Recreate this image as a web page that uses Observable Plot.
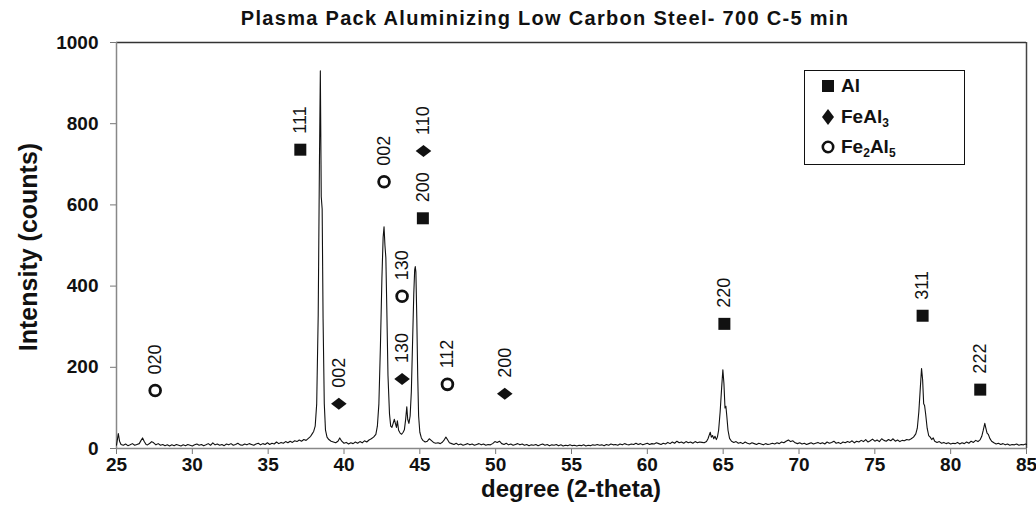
<!DOCTYPE html>
<html>
<head>
<meta charset="utf-8">
<script src="https://cdn.jsdelivr.net/npm/d3@7"></script>
<script src="https://cdn.jsdelivr.net/npm/@observablehq/plot@0.6"></script>
<style>
  html, body { margin: 0; padding: 0; background: #fff; }
  body { font-family: "Liberation Sans", Arial, Helvetica, sans-serif; color: #111; }
  #wrap { position: relative; width: 1036px; height: 520px; overflow: hidden; }
  #title { position: absolute; left: 545px; top: 18px; transform: translate(-50%, -50%); white-space: nowrap;
           font-weight: bold; font-size: 20px; letter-spacing: 1.3px; line-height: 1; }
  #ylabel { position: absolute; left: 28px; top: 247px; transform: translate(-50%, -50%) rotate(-90deg);
            white-space: nowrap; font-weight: bold; font-size: 25px; line-height: 1; }
  #xlabel { position: absolute; left: 571px; top: 489px; transform: translate(-50%, -50%); white-space: nowrap;
            font-weight: bold; font-size: 24px; line-height: 1; }
  #legend { position: absolute; left: 804px; top: 70px; width: 161px; height: 95px; box-sizing: border-box;
            border: 1.5px solid #111; background: #fff; padding: 0 0 0 16px; }
  .item { display: flex; align-items: center; height: 30.5px; font-weight: bold; font-size: 19px; }
  .item svg { margin-right: 6px; }
  sub { font-size: 12px; vertical-align: -4px; line-height: 0; }
</style>
</head>
<body>
<div id="wrap">
  <div id="title"></div>
  <div id="chart"></div>
  <div id="ylabel"></div>
  <div id="xlabel"></div>
  <div id="legend"></div>
</div>
<script>
// ---- Data ----
const chartTitle = "Plasma Pack Aluminizing Low Carbon Steel- 700 C-5 min";
const xTitle = "degree (2-theta)";
const yTitle = "Intensity (counts)";
const xTicks = [25, 30, 35, 40, 45, 50, 55, 60, 65, 70, 75, 80, 85];
const yTicks = [0, 200, 400, 600, 800, 1000];

// XRD pattern: [2-theta (deg), intensity (counts)]
const pattern = [
  [25.00,8],[25.05,20],[25.12,37],[25.2,18],[25.3,10],[25.45,8],[25.6,11],[25.75,7],[25.9,9],[26.05,12],
  [26.2,8],[26.35,10],[26.5,12],[26.62,20],[26.72,26],[26.82,18],[26.95,10],[27.05,9],[27.2,13],[27.32,17],
  [27.45,14],[27.6,9],[27.75,12],[27.9,8],[28.05,10],[28.2,7],[28.35,9],[28.5,6],[28.65,9],[28.8,7],
  [28.95,10],[29.1,8],[29.25,6],[29.4,9],[29.55,7],[29.7,10],[29.85,8],[30.0,6],[30.15,9],[30.3,11],
  [30.45,8],[30.6,10],[30.75,7],[30.9,9],[31.05,12],[31.2,8],[31.35,14],[31.5,9],[31.65,11],[31.8,8],
  [31.95,10],[32.1,7],[32.25,11],[32.4,9],[32.55,12],[32.7,8],[32.85,10],[33.0,13],[33.15,9],[33.3,8],
  [33.45,11],[33.6,9],[33.75,12],[33.9,10],[34.05,8],[34.2,11],[34.35,13],[34.5,9],[34.65,12],[34.8,10],
  [34.95,14],[35.1,10],[35.25,13],[35.4,11],[35.55,16],[35.7,12],[35.85,15],[36.0,13],[36.15,17],[36.3,14],
  [36.45,18],[36.6,15],[36.75,19],[36.9,17],[37.05,21],[37.2,18],[37.35,22],[37.5,20],[37.65,25],[37.8,30],
  [37.9,36],[38.0,42],[38.1,55],[38.2,110],[38.3,330],[38.38,700],[38.44,930],[38.5,620],[38.56,590],[38.62,320],
  [38.7,110],[38.78,45],[38.88,28],[39.0,22],[39.15,18],[39.3,16],[39.45,14],[39.6,18],[39.72,26],[39.85,18],
  [40.0,13],[40.15,15],[40.3,11],[40.45,14],[40.6,12],[40.75,16],[40.9,13],[41.05,17],[41.2,14],[41.35,19],
  [41.5,16],[41.65,21],[41.8,24],[41.95,28],[42.1,35],[42.2,55],[42.3,110],[42.4,250],[42.5,420],[42.58,520],
  [42.64,546],[42.7,500],[42.76,470],[42.82,350],[42.9,180],[43.0,85],[43.08,55],[43.16,52],[43.24,62],[43.32,72],
  [43.4,60],[43.46,52],[43.52,68],[43.6,45],[43.7,38],[43.8,35],[43.9,40],[43.98,46],[44.06,70],[44.14,103],
  [44.2,72],[44.28,62],[44.36,80],[44.44,140],[44.52,260],[44.6,380],[44.66,440],[44.7,448],[44.74,435],[44.8,320],
  [44.86,180],[44.92,80],[45.0,40],[45.1,26],[45.2,20],[45.35,16],[45.5,18],[45.62,24],[45.75,20],[45.9,15],
  [46.05,13],[46.2,14],[46.35,12],[46.5,16],[46.62,22],[46.72,28],[46.82,22],[46.95,14],[47.1,12],[47.25,10],
  [47.4,13],[47.55,9],[47.7,11],[47.85,8],[48.0,10],[48.15,12],[48.3,9],[48.45,11],[48.6,8],[48.75,10],
  [48.9,12],[49.05,9],[49.2,11],[49.35,8],[49.5,10],[49.65,9],[49.8,12],[49.95,17],[50.1,15],[50.25,18],
  [50.4,12],[50.55,10],[50.7,13],[50.85,9],[51.0,11],[51.15,8],[51.3,10],[51.45,12],[51.6,9],[51.75,11],
  [51.9,8],[52.05,10],[52.2,7],[52.35,9],[52.5,8],[52.65,10],[52.8,7],[52.95,9],[53.1,11],[53.25,8],
  [53.4,10],[53.55,7],[53.7,9],[53.85,8],[54.0,10],[54.15,7],[54.3,9],[54.45,6],[54.6,8],[54.75,7],
  [54.9,9],[55.05,7],[55.2,8],[55.35,6],[55.5,8],[55.65,7],[55.8,9],[55.95,6],[56.1,8],[56.25,7],
  [56.4,9],[56.55,8],[56.7,10],[56.85,8],[57.0,9],[57.15,7],[57.3,10],[57.45,8],[57.6,11],[57.75,9],
  [57.9,10],[58.05,8],[58.2,11],[58.35,9],[58.5,12],[58.65,10],[58.8,9],[58.95,11],[59.1,10],[59.25,13],
  [59.4,10],[59.55,12],[59.7,9],[59.85,11],[60.0,13],[60.15,10],[60.3,12],[60.45,11],[60.6,14],[60.75,12],
  [60.9,10],[61.05,13],[61.2,11],[61.35,15],[61.5,12],[61.65,16],[61.8,13],[61.95,18],[62.1,14],[62.25,16],
  [62.4,13],[62.55,17],[62.7,14],[62.85,16],[63.0,13],[63.15,17],[63.3,14],[63.45,16],[63.6,15],[63.75,14],
  [63.9,17],[64.0,24],[64.08,33],[64.15,40],[64.22,28],[64.3,32],[64.38,24],[64.46,30],[64.55,22],[64.62,28],
  [64.7,45],[64.8,90],[64.9,150],[64.98,194],[65.05,160],[65.12,100],[65.18,104],[65.24,80],[65.32,45],[65.42,25],
  [65.55,18],[65.7,15],[65.85,17],[66.0,13],[66.15,15],[66.3,12],[66.45,16],[66.6,13],[66.75,11],[66.9,14],
  [67.05,12],[67.2,10],[67.35,13],[67.5,11],[67.65,9],[67.8,12],[67.95,10],[68.1,11],[68.25,13],[68.4,11],
  [68.55,14],[68.7,12],[68.85,16],[69.0,14],[69.15,18],[69.3,21],[69.45,17],[69.6,19],[69.75,14],[69.9,12],
  [70.05,14],[70.2,11],[70.35,13],[70.5,10],[70.65,12],[70.8,14],[70.95,11],[71.1,13],[71.25,15],[71.4,12],
  [71.55,14],[71.7,11],[71.85,16],[72.0,13],[72.15,15],[72.3,18],[72.45,13],[72.6,15],[72.75,12],[72.9,16],
  [73.05,14],[73.2,17],[73.35,15],[73.5,19],[73.65,14],[73.8,18],[73.95,16],[74.1,20],[74.25,17],[74.4,22],
  [74.55,16],[74.7,19],[74.85,23],[75.0,18],[75.15,21],[75.3,17],[75.45,24],[75.6,20],[75.75,18],[75.9,22],
  [76.05,19],[76.2,24],[76.35,18],[76.5,21],[76.65,17],[76.8,20],[76.95,19],[77.1,22],[77.25,21],[77.4,24],
  [77.55,28],[77.7,36],[77.8,50],[77.9,90],[78.0,150],[78.08,197],[78.15,170],[78.22,110],[78.28,106],[78.35,85],
  [78.45,50],[78.55,32],[78.65,28],[78.75,22],[78.85,26],[78.95,18],[79.1,15],[79.25,17],[79.4,13],[79.55,15],
  [79.7,12],[79.85,14],[80.0,11],[80.15,13],[80.3,12],[80.45,15],[80.6,11],[80.75,14],[80.9,12],[81.05,16],
  [81.2,13],[81.35,18],[81.5,15],[81.65,20],[81.8,17],[81.95,22],[82.05,30],[82.15,45],[82.25,62],[82.32,50],
  [82.4,38],[82.48,35],[82.58,25],[82.7,18],[82.85,14],[83.0,11],[83.15,13],[83.3,10],[83.45,12],[83.6,9],
  [83.75,11],[83.9,8],[84.05,10],[84.2,9],[84.35,11],[84.5,8],[84.65,10],[84.8,9],[84.95,11],[85.0,10]
];

// Phase identification annotations
const peakPhase   = ["Fe2Al5","Al","FeAl3","Fe2Al5","FeAl3","Al","Fe2Al5","FeAl3","Fe2Al5","FeAl3","Al","Al","Al"];
const peakTheta   = [27.55, 37.12, 39.66, 42.64, 45.24, 45.2, 43.83, 43.83, 46.82, 50.6, 65.08, 78.15, 81.95];
const markerLevel = [143, 736, 110, 657, 733, 567, 375, 171, 158, 135, 307, 327, 145];
const peakHkl     = ["020","111","002","002","110","200","130","130","112","200","220","311","222"];

// Legend entries
const legendPhases = ["Al", "FeAl3", "Fe2Al5"];
const legendHtml   = ["Al", "FeAl<sub>3</sub>", "Fe<sub>2</sub>Al<sub>5</sub>"];

// ---- Build ----
const curve = pattern.map(([theta, counts]) => ({theta, counts}));
const notes = peakTheta.map((t, i) => ({theta: t, level: markerLevel[i], hkl: peakHkl[i], phase: peakPhase[i]}));

const squareSym = {draw(ctx, size) { const r = Math.sqrt(size / Math.PI); const h = r; ctx.moveTo(-h, -h); ctx.lineTo(h, -h); ctx.lineTo(h, h); ctx.lineTo(-h, h); ctx.closePath(); }};
const diamondSym = {draw(ctx, size) { const r = Math.sqrt(size / Math.PI); const w = r * 1.3, h = r; ctx.moveTo(0, -h); ctx.lineTo(w, 0); ctx.lineTo(0, h); ctx.lineTo(-w, 0); ctx.closePath(); }};

const font = "'Liberation Sans', Arial, Helvetica, sans-serif";

const chart = Plot.plot({
  width: 1036,
  height: 520,
  marginLeft: 116,
  marginRight: 10,
  marginTop: 42,
  marginBottom: 72,
  x: {domain: [25, 85]},
  y: {domain: [0, 1000]},
  style: {fontFamily: font, background: "white", color: "#111"},
  marks: [
    Plot.ruleY([1000], {stroke: "#333", strokeWidth: 1.5}),
    Plot.ruleX([85], {stroke: "#444", strokeWidth: 1.5}),
    Plot.axisX({ticks: xTicks, tickSize: 6, tickPadding: 3, stroke: "#777", fill: "#111", fontSize: 19, fontWeight: "bold", label: null, tickFormat: d => String(d)}),
    Plot.axisY({ticks: yTicks, tickSize: 6, tickPadding: 12, stroke: "#777", fill: "#111", fontSize: 19, fontWeight: "bold", label: null, tickFormat: d => String(d)}),
    Plot.ruleY([0], {stroke: "#888", strokeWidth: 1.5}),
    Plot.ruleX([25], {stroke: "#888", strokeWidth: 1.5}),
    Plot.line(curve, {x: "theta", y: "counts", stroke: "#111", strokeWidth: 1.1, curve: "linear"}),
    Plot.dot(notes.filter(d => d.phase === "Al"), {x: "theta", y: "level", symbol: squareSym, r: 6, fill: "#111", stroke: "none"}),
    Plot.dot(notes.filter(d => d.phase === "FeAl3"), {x: "theta", y: "level", symbol: diamondSym, r: 6, fill: "#111", stroke: "none"}),
    Plot.dot(notes.filter(d => d.phase === "Fe2Al5"), {x: "theta", y: "level", symbol: "circle", r: 5.4, fill: "white", stroke: "#111", strokeWidth: 2.8}),
    Plot.text(notes, {x: "theta", y: "level", text: "hkl", rotate: -90, textAnchor: "start", lineAnchor: "middle", dy: -16, fontSize: 18, fill: "#111"})
  ]
});
document.getElementById("chart").appendChild(chart);

document.getElementById("title").textContent = chartTitle;
document.getElementById("xlabel").textContent = xTitle;
document.getElementById("ylabel").textContent = yTitle;

const symSvg = {
  "Al": '<svg width="14" height="14"><rect x="1" y="1" width="12" height="12" fill="#111"/></svg>',
  "FeAl3": '<svg width="14" height="18"><path d="M7,1 L13,9 L7,17 L1,9 Z" fill="#111"/></svg>',
  "Fe2Al5": '<svg width="14" height="14"><circle cx="7" cy="7" r="5.2" fill="none" stroke="#111" stroke-width="2.6"/></svg>'
};
document.getElementById("legend").innerHTML = legendPhases.map((p, i) =>
  `<div class="item">${symSvg[p]}<span>${legendHtml[i]}</span></div>`).join("");
</script>
</body>
</html>
